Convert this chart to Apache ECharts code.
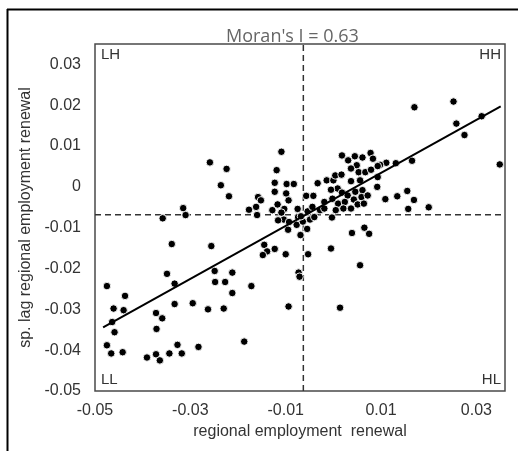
<!DOCTYPE html>
<html>
<head>
<meta charset="utf-8">
<script src="https://cdn.jsdelivr.net/npm/echarts@6/dist/echarts.min.js"></script>
<style>
html,body{margin:0;padding:0;background:#fff;}
#chart{width:518px;height:451px;}
</style>
</head>
<body>
<div id="chart"></div>
<script>
// ---- data ----
const xValues = [
 -0.0259,-0.0224,-0.0236,-0.0219,-0.0315,-0.0310,-0.0358,-0.0339,-0.0256,-0.0349,
 -0.0333,-0.0249,-0.0248,-0.0227,-0.0212,-0.0212,-0.0475,-0.0437,-0.0461,-0.0440,
 -0.0464,-0.0459,-0.0475,-0.0466,-0.0442,-0.0372,-0.0359,-0.0371,-0.0333,-0.0295,
 -0.0263,-0.0230,-0.0391,-0.0372,-0.0364,-0.0344,-0.0327,-0.0318,-0.0283,-0.0172,
 -0.0187,
 -0.0145,-0.0139,-0.0148,-0.0123,-0.0100,-0.0053,-0.0073,-0.0071,-0.0094,0.0014,
 -0.0005,0.0056,0.0039,0.0065,0.0075,-0.0003,-0.0095,-0.0069,-0.0055,-0.0077,
 -0.0064,-0.0049,-0.0074,-0.0104,-0.0160,
 0.0170,0.0252,0.0311,0.0258,0.0275,0.0349,0.0165,0.0131,0.0111,0.0098,
 0.0093,0.0109,0.0134,0.0155,0.0169,0.0157,0.0200,
 -0.0109,-0.0119,-0.0123,-0.0098,-0.0083,-0.0123,-0.0099,-0.0158,-0.0152,-0.0177,
 -0.0162,-0.0117,-0.0094,-0.0103,-0.0075,-0.0068,-0.0057,-0.0042,-0.0033,-0.0054,
 -0.0044,-0.0028,-0.0019,-0.0014,0.0000,0.0004,0.0017,0.0018,0.0031,0.0045,
 0.0061,0.0078,0.0083,0.0093,0.0049,0.0053,0.0037,0.0067,0.0079,0.0056,
 0.0037,0.0009,-0.0005,0.0018,0.0030,0.0046,0.0061,-0.0002,0.0010,0.0024,
 0.0043,0.0059,0.0072,0.0092,0.0005,0.0021,0.0037,0.0051,0.0064,-0.0019,
 -0.0040,-0.0093,-0.0116,-0.0109,-0.0128
];
const yValues = [
 0.0060,0.0044,0.0004,-0.0023,-0.0052,-0.0069,-0.0077,-0.0140,-0.0145,-0.0213,
 -0.0237,-0.0206,-0.0233,-0.0233,-0.0210,-0.0260,-0.0243,-0.0267,-0.0298,-0.0302,
 -0.0331,-0.0356,-0.0388,-0.0408,-0.0405,-0.0309,-0.0322,-0.0348,-0.0287,-0.0285,
 -0.0300,-0.0298,-0.0418,-0.0410,-0.0425,-0.0408,-0.0387,-0.0408,-0.0392,-0.0243,
 -0.0379,
 -0.0142,-0.0158,-0.0167,-0.0152,-0.0165,-0.0165,-0.0210,-0.0220,-0.0293,-0.0296,
 -0.0151,-0.0192,-0.0113,-0.0100,-0.0115,-0.0075,-0.0105,-0.0118,-0.0103,-0.0093,
 -0.0085,-0.0080,-0.0074,-0.0080,-0.0069,
 0.0195,0.0209,0.0173,0.0155,0.0127,0.0055,0.0064,0.0058,0.0059,0.0054,
 0.0024,-0.0030,-0.0023,-0.0010,-0.0032,-0.0054,-0.0050,
 0.0086,0.0041,0.0010,0.0007,0.0007,-0.0012,-0.0016,-0.0025,-0.0033,-0.0056,
 -0.0049,-0.0043,-0.0033,-0.0054,-0.0054,-0.0072,-0.0022,-0.0022,0.0009,-0.0060,
 -0.0049,-0.0057,-0.0037,0.0016,0.0016,0.0028,0.0030,0.0077,0.0065,0.0075,
 0.0072,0.0083,0.0069,0.0051,0.0053,0.0036,0.0045,0.0036,0.0042,0.0016,
 0.0014,-0.0004,-0.0007,-0.0014,-0.0021,-0.0012,-0.0008,-0.0029,-0.0041,-0.0037,
 -0.0031,-0.0025,-0.0021,0.0000,-0.0057,-0.0053,-0.0053,-0.0043,-0.0041,-0.0053,
 -0.0074,-0.0086,-0.0082,-0.0063,-0.0057
];
const fitLineX = [-0.0483, 0.0351];
const fitLineY = [-0.0344, 0.0197];
const meanX = -0.0063;
const meanY = -0.0068;
const xRange = [-0.05, 0.036];
const yRange = [-0.05, 0.035];
const xTickLabels = ['-0.05','-0.03','-0.01','0.01','0.03'];
const yTickLabels = ['-0.05','-0.04','-0.03','-0.02','-0.01','0','0.01','0.02','0.03'];
const titleText = "Moran's I = 0.63";
const quadrantLabels = ['LH','HH','LL','HL'];
const xName = 'regional employment  renewal';
const yName = 'sp. lag regional employment renewal';

// ---- build ----
const points = xValues.map((x, i) => [x, yValues[i]]);
const fitLine = fitLineX.map((x, i) => [x, fitLineY[i]]);
const vMean = [[meanX, yRange[0]], [meanX, yRange[1]]];
const hMean = [[xRange[0], meanY], [xRange[1], meanY]];
const FONT = '"Liberation Sans", Arial, sans-serif';

function fmt(v, list) {
  const k = Math.round(v * 100);
  if (Math.abs(v * 100 - k) > 1e-6) return '';
  const s = k === 0 ? '0' : (k / 100).toFixed(2);
  return list.indexOf(s) >= 0 ? s : '';
}

const dashStyle = {type: [6, 4], color: '#333', width: 1.5};

const chart = echarts.init(document.getElementById('chart'), null, {renderer: 'canvas'});
chart.setOption({
  animation: false,
  backgroundColor: '#fff',
  title: {
    text: titleText,
    left: 221, top: 23,
    textStyle: {fontFamily: '"Open Sans", sans-serif', fontSize: 18, fontWeight: 'normal', color: '#666'}
  },
  grid: {left: 95, right: 13, top: 44, bottom: 60, show: true, borderColor: '#4a4a4a', borderWidth: 1.5, backgroundColor: 'transparent'},
  xAxis: {
    type: 'value', min: xRange[0], max: xRange[1], interval: 0.01,
    name: xName, nameLocation: 'middle', nameGap: 32,
    nameTextStyle: {fontFamily: FONT, fontSize: 16, color: '#333'},
    axisLine: {show: false}, axisTick: {show: false}, splitLine: {show: false},
    axisLabel: {interval: 0, margin: 12, fontFamily: FONT, fontSize: 16, color: '#333',
      formatter: v => fmt(v, xTickLabels)}
  },
  yAxis: {
    type: 'value', min: yRange[0], max: yRange[1], interval: 0.01,
    name: yName, nameLocation: 'middle', nameGap: 61,
    nameTextStyle: {fontFamily: FONT, fontSize: 16, color: '#333'},
    axisLine: {show: false}, axisTick: {show: false}, splitLine: {show: false},
    axisLabel: {interval: 0, margin: 14, fontFamily: FONT, fontSize: 16, color: '#333',
      formatter: v => fmt(v, yTickLabels)}
  },
  series: [
    {type: 'line', data: vMean, symbol: 'none', showSymbol: false, lineStyle: dashStyle, silent: true, z: 1},
    {type: 'line', data: hMean, symbol: 'none', showSymbol: false, lineStyle: dashStyle, silent: true, z: 1},
    {
      type: 'scatter', data: points, symbolSize: 7.5,
      itemStyle: {color: '#000', borderColor: '#fff', borderWidth: 0.9, opacity: 1},
      z: 3
    },
    {
      type: 'line', data: fitLine, showSymbol: false, symbol: 'none',
      lineStyle: {color: '#000', width: 2}, z: 4
    }
  ],
  graphic: [
    {type: 'line', shape: {x1: 7, y1: 9.5, x2: 518, y2: 9.5}, style: {stroke: '#000', lineWidth: 2}},
    {type: 'line', shape: {x1: 7.5, y1: 9, x2: 7.5, y2: 451}, style: {stroke: '#000', lineWidth: 2}},
    {type: 'text', left: 101, top: 47, style: {text: quadrantLabels[0], font: '15px ' + FONT, fill: '#333'}},
    {type: 'text', right: 17, top: 47, style: {text: quadrantLabels[1], font: '15px ' + FONT, fill: '#333'}},
    {type: 'text', left: 101, top: 372, style: {text: quadrantLabels[2], font: '15px ' + FONT, fill: '#333'}},
    {type: 'text', right: 17, top: 372, style: {text: quadrantLabels[3], font: '15px ' + FONT, fill: '#333'}}
  ]
});
</script>
</body>
</html>
